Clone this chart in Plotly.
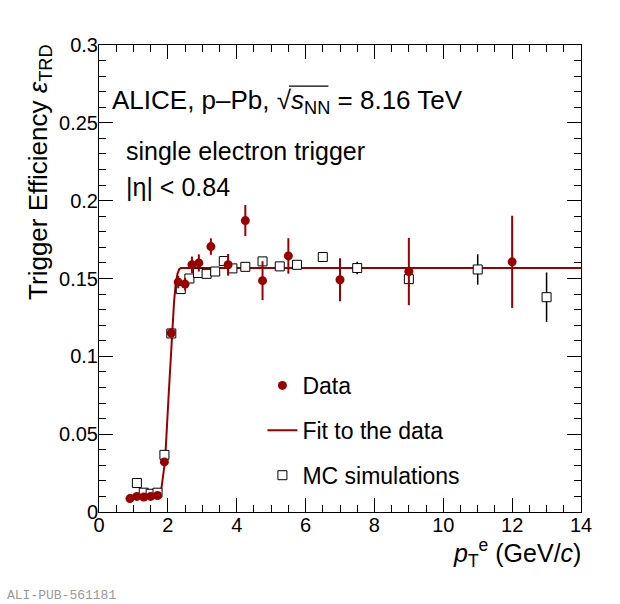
import plotly.graph_objects as go

# ---- data ----
data_x = [0.9, 1.1, 1.3, 1.5, 1.7, 1.9, 2.1, 2.3, 2.5, 2.7, 2.9, 3.25, 3.75, 4.25, 4.75, 5.5, 7.0, 9.0, 12.0]
data_y = [0.0086, 0.0100, 0.0096, 0.0100, 0.0106, 0.0322, 0.1150, 0.1477, 0.1464, 0.1588, 0.1600,
          0.1705, 0.1588, 0.1872, 0.1486, 0.1645, 0.1492, 0.1545, 0.1607]
data_err = [0.0005, 0.0005, 0.0005, 0.0005, 0.0006, 0.0015, 0.0030, 0.0040, 0.0040, 0.0053, 0.0055,
            0.0053, 0.0070, 0.0100, 0.0125, 0.0114, 0.0138, 0.0216, 0.0296]

mc_x = [1.1, 1.3, 1.5, 1.7, 1.9, 2.1, 2.375, 2.625, 2.875, 3.125, 3.375, 3.625, 3.875,
        4.25, 4.75, 5.25, 5.75, 6.5, 7.5, 9.0, 11.0, 13.0]
mc_y = [0.0186, 0.0124, 0.0117, 0.0124, 0.0367, 0.1147, 0.1432, 0.1500, 0.1535, 0.1530, 0.1545,
        0.1612, 0.1565, 0.1575, 0.1610, 0.1578, 0.1588, 0.1638, 0.1567, 0.1496, 0.1558, 0.1380]
mc_err = [0.0008, 0.0006, 0.0006, 0.0006, 0.0010, 0.0015, 0.0015, 0.0015, 0.0015, 0.0015, 0.0015,
          0.0015, 0.0015, 0.0015, 0.0018, 0.0020, 0.0022, 0.0022, 0.0040, 0.0050, 0.0098, 0.0159]

fit_x = [0.9, 1.75, 1.80, 1.86, 1.92, 2.02, 2.12, 2.18, 2.23, 2.28, 2.33, 2.38, 14.0]
fit_y = [0.0106, 0.0107, 0.0130, 0.0224, 0.0330, 0.0740, 0.1150, 0.1350, 0.1470, 0.1530, 0.1560, 0.1567, 0.1567]

x_ticks = [0, 2, 4, 6, 8, 10, 12, 14]
y_ticks = [0, 0.05, 0.1, 0.15, 0.2, 0.25, 0.3]
y_tick_labels = ["0", "0.05", "0.1", "0.15", "0.2", "0.25", "0.3"]

RED = "#990000"
FONT = "Liberation Sans, Arial, Helvetica, sans-serif"

fig = go.Figure()

fig.add_trace(go.Scatter(
    x=fit_x, y=fit_y, mode="lines", name="Fit to the data",
    line=dict(color=RED, width=2), legendgroup="b", legendrank=2,
))
fig.add_trace(go.Scatter(
    x=mc_x, y=mc_y, mode="markers", name="MC simulations",
    marker=dict(symbol="square", size=9, color="white", line=dict(color="black", width=1)),
    error_y=dict(type="data", array=mc_err, color="black", thickness=1.5, width=0),
    legendgroup="c", legendrank=3,
))
fig.add_trace(go.Scatter(
    x=data_x, y=data_y, mode="markers", name="Data",
    marker=dict(symbol="circle", size=9, color=RED),
    error_y=dict(type="data", array=data_err, color=RED, thickness=2, width=0),
    legendgroup="a", legendrank=1,
))

axis_common = dict(
    showline=True, linecolor="black", linewidth=1, mirror="ticks",
    ticks="inside", tickcolor="black", tickwidth=1, ticklen=14,
    showgrid=False, zeroline=False,
    tickfont=dict(family=FONT, size=20, color="black"),
)

fig.update_xaxes(
    range=[0, 14], tickvals=x_ticks, ticktext=[str(v) for v in x_ticks],
    ticklabelstandoff=-5,
    minor=dict(dtick=0.5, ticks="inside", ticklen=7, tickcolor="black", tickwidth=1, showgrid=False),
    **axis_common,
)
fig.update_yaxes(
    range=[0, 0.3], tickvals=y_ticks, ticktext=y_tick_labels,
    ticklabelstandoff=-4,
    minor=dict(dtick=0.01, ticks="inside", ticklen=7, tickcolor="black", tickwidth=1, showgrid=False),
    **axis_common,
)

fig.update_layout(
    width=620, height=604,
    margin=dict(l=99, r=39, t=45, b=92),
    paper_bgcolor="white", plot_bgcolor="white",
    font=dict(family=FONT, color="black"),
    showlegend=True,
    legend=dict(
        x=0.339, y=0.317, xanchor="left", yanchor="top",
        font=dict(family=FONT, size=23, color="black"),
        bgcolor="rgba(0,0,0,0)", tracegroupgap=12, itemwidth=30,
    ),
    shapes=[
        # overbar of the square-root sign
        dict(type="line", xref="paper", yref="paper", x0=0.394, x1=0.476, y0=0.912, y1=0.912,
             line=dict(color="black", width=1.3)),
    ],
    annotations=[
        dict(text="ALICE, p\u2013Pb, \u221a<i>s</i><sub>NN</sub> = 8.16 TeV",
             xref="paper", yref="paper", x=0.023, y=0.88, xanchor="left", yanchor="middle",
             showarrow=False, font=dict(family=FONT, size=26)),
        dict(text="single electron trigger",
             xref="paper", yref="paper", x=0.052, y=0.772, xanchor="left", yanchor="middle",
             showarrow=False, font=dict(family=FONT, size=25)),
        dict(text="|\u03b7| &lt; 0.84",
             xref="paper", yref="paper", x=0.052, y=0.697, xanchor="left", yanchor="middle",
             showarrow=False, font=dict(family=FONT, size=25)),
        dict(text="Trigger Efficiency <i>\u03b5</i><sub>TRD</sub>",
             xref="paper", yref="paper", x=-0.125, y=1.005, xanchor="center", yanchor="top",
             textangle=-90, showarrow=False, font=dict(family=FONT, size=26)),
        dict(text="<i>p</i><sub>T</sub><sup>e</sup> (GeV/<i>c</i>)",
             xref="paper", yref="paper", x=1.004, y=-0.088, xanchor="right", yanchor="middle",
             showarrow=False, font=dict(family=FONT, size=25)),
        dict(text="ALI-PUB-561181",
             xref="paper", yref="paper", x=-0.196, y=-0.178, xanchor="left", yanchor="middle",
             showarrow=False, font=dict(family="Liberation Mono, monospace", size=13, color="#999999")),
    ],
)

fig.write_html("out.html", config={"displayModeBar": False},
               post_script="document.body.style.margin='0px';document.body.style.overflow='hidden';")
